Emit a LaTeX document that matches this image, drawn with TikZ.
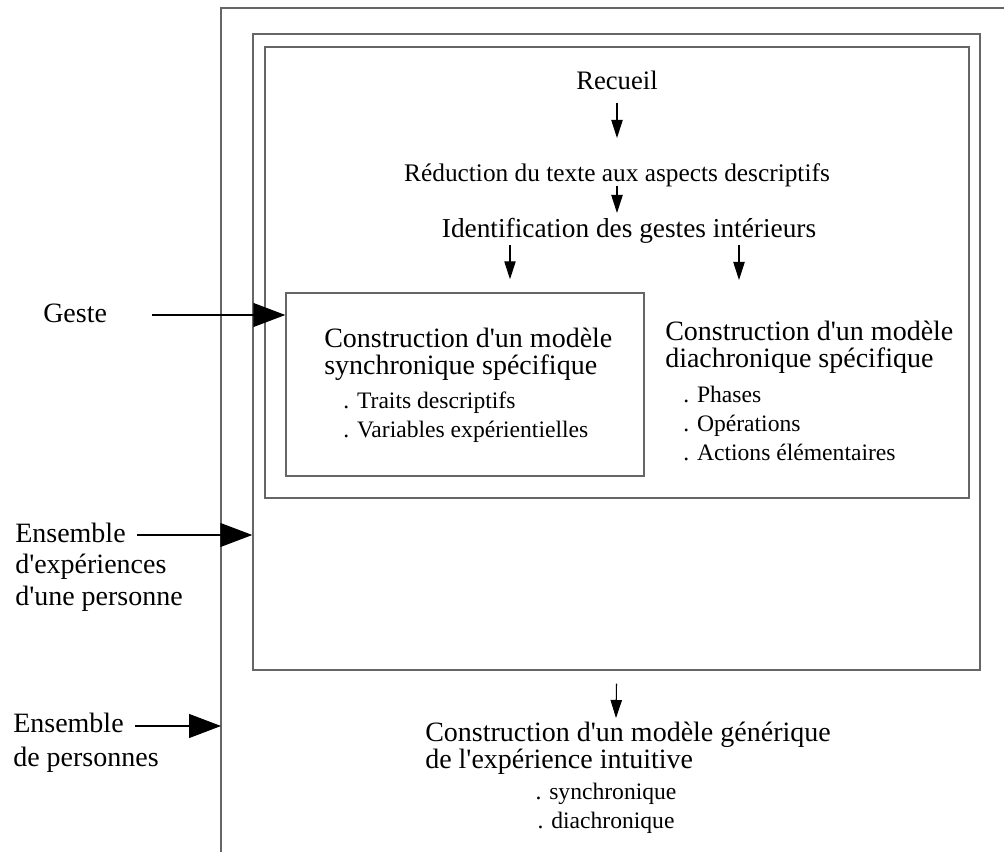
\documentclass[tikz,border=0pt]{standalone}
\usepackage{fontspec}
\setmainfont{Liberation Serif}
\usetikzlibrary{arrows.meta, calc, fit}

\tikzset{
  frame/.style={draw=black!60, line width=1.1pt},
  boxline/.style={draw=black!60, line width=1.1pt, inner sep=0pt},
  flowtxt/.style={inner sep=0pt, font=\fontsize{19.5}{23}\selectfont},
  headtxt/.style={inner sep=0pt, align=left, font=\fontsize{21}{20.25}\selectfont},
  listtxt/.style={inner sep=0pt, align=left, font=\fontsize{17.7}{21.5}\selectfont},
  sidetxt/.style={inner sep=0pt, align=left, font=\fontsize{21}{23.5}\selectfont},
  flowarrow/.style={draw=black, line width=0.8pt, -{Triangle[length=13.5pt,width=8.5pt]}},
  bigarrow/.style={draw=black, line width=0.8pt, -{Triangle[length=24pt,width=18pt]}},
}

\begin{document}
\begin{tikzpicture}[x=0.75pt, y=-0.75pt]
  \useasboundingbox (0,0) rectangle (1004,852);

  % Frames
  \coordinate (outerleft) at (221,8);
  \draw[frame] (221,852) -- (outerleft) -- (1004,8);
  \node[boxline, fit={(253,34) (980,670)}] (expbox) {};
  \node[boxline, fit={(265,47) (969,498)}] (gestbox) {};
  \node[boxline, fit={(286,293) (644,476)}] (synbox) {};

  % Steps
  \node[flowtxt, font=\fontsize{20}{23}\selectfont, anchor=base] (recueil) at (617,90) {Recueil};
  \node[flowtxt, font=\fontsize{19}{23}\selectfont, anchor=base] (reduc) at (617,182) {Réduction du texte aux aspects descriptifs};
  \node[flowtxt, font=\fontsize{20.5}{23}\selectfont, anchor=base] (ident) at (629,238) {Identification des gestes intérieurs};

  % Models (base = last line)
  \node[headtxt, anchor=base west] (syntext) at (324,375) {Construction d\textquotesingle un modèle\\synchronique spécifique};
  \node[listtxt, anchor=base west] (synlist) at (343,437) {. Traits descriptifs\\. Variables expérientielles};
  \node[headtxt, anchor=base west] (diatext) at (665,368) {Construction d\textquotesingle un modèle\\diachronique spécifique};
  \node[listtxt, anchor=base west] (dialist) at (683,460) {. Phases\\. Opérations\\. Actions élémentaires};
  \node[headtxt, anchor=base west] (gentext) at (425,768) {Construction d\textquotesingle un modèle générique\\de l\textquotesingle expérience intuitive};
  \node[listtxt, align=center, anchor=base] (genlist) at (606,828) {. synchronique\\. diachronique};

  % Inputs
  \node[sidetxt, anchor=base west] (geste) at (43,323) {Geste};
  \node[sidetxt, anchor=base west] (ensexp) at (15,605) {Ensemble\\d\textquotesingle expériences\\d\textquotesingle une personne};
  \node[sidetxt, anchor=base west] (enspers) at (13,766) {Ensemble\\[2pt]de personnes};

  % Arrows
  \draw[flowarrow] ($(recueil.base)+(0,13)$) -- ($(reduc.base)+(0,-44)$);
  \draw[flowarrow] ($(reduc.base)+(0,4)$) -- ($(ident.base)+(-12,-25)$);
  \draw[flowarrow] ($(ident.base)+(-119,7)$) -- ($(synbox.north)+(45,-13)$);
  \draw[flowarrow] ($(ident.base)+(110,7)$) -- ($(diatext.base west)+(74,-88)$);
  \draw[flowarrow] ($(expbox.south)+(0,13)$) -- ($(gentext.base west)+(191,-50)$);

  \coordinate (gesteout) at ($(geste.base west)+(109,-8)$);
  \draw[bigarrow] (gesteout) -- (gesteout -| synbox.west);
  \coordinate (ensexpout) at ($(ensexp.base west)+(122,-70)$);
  \draw[bigarrow] (ensexpout) -- (ensexpout -| expbox.west);
  \coordinate (enspersout) at ($(enspers.base west)+(122,-40)$);
  \draw[bigarrow] (enspersout) -- (enspersout -| outerleft);
\end{tikzpicture}
\end{document}
